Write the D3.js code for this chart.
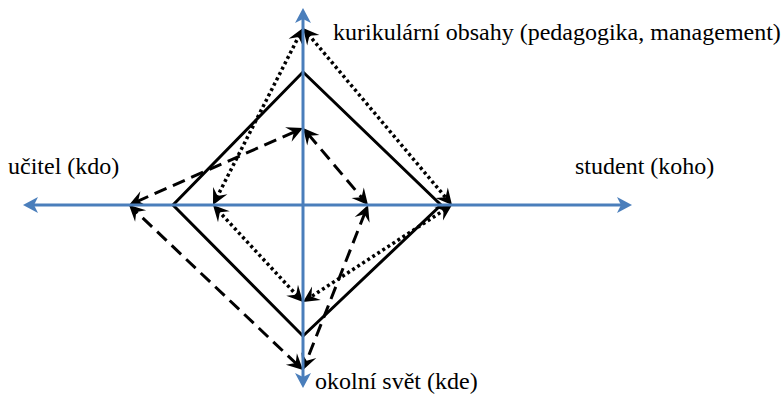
<!DOCTYPE html>
<html>
<head>
<meta charset="utf-8">
<script src="https://cdn.jsdelivr.net/npm/d3@7"></script>
<style>
  body { margin: 0; background: #fff; }
</style>
</head>
<body>
<svg id="chart" width="783" height="395"></svg>
<script>
// axis order: top, right, bottom, left
const axisLabels = ['kurikulární obsahy (pedagogika, management)', 'student (koho)', 'okolní svět (kde)', 'učitel (kdo)'];
const axisLength = [98.5, 164.5, 91.5, 140];
const solidValues = [66.5, 69, 65.5, 65];
const dottedValues = [88.5, 74.5, 48.5, 45];
const dashedValues = [38.5, 32.5, 82.5, 87];

const svg = d3.select('#chart');

const x = d3.scaleLinear().domain([-140, 165]).range([23, 633]);
const y = d3.scaleLinear().domain([-92, 99]).range([389, 7]);

const dirs = [[0, 1], [1, 0], [0, -1], [-1, 0]];
function pt(i, v) {
    return [x(dirs[i][0] * v), y(dirs[i][1] * v)];
}

const BLUE = '#4a7ebb';

// pick the first serif face that is really installed
function pickFont() {
    const ctx = document.createElement('canvas').getContext('2d');
    const probe = 'kurikulární obsahy mmmWWWiii';
    const cands = ['Liberation Serif', 'DejaVu Serif', 'Times New Roman', 'Tinos', 'Noto Serif', 'FreeSerif', 'Nimbus Roman'];
    for (const f of cands) {
        let same = true;
        for (const base of ['monospace', 'sans-serif']) {
            ctx.font = `24px ${base}`;
            const w0 = ctx.measureText(probe).width;
            ctx.font = `24px '${f}', ${base}`;
            if (ctx.measureText(probe).width !== w0) same = false;
        }
        if (!same) return `'${f}', serif`;
    }
    return 'serif';
}
const FONT = pickFont();

function arrowHead(g, tip, from, color, len, half, notch) {
    const ang = Math.atan2(tip[1] - from[1], tip[0] - from[0]) * 180 / Math.PI;
    g.append('path')
        .attr('d', `M0,0L${-len},${-half}L${-notch},0L${-len},${half}Z`)
        .attr('fill', color)
        .attr('transform', `translate(${tip[0]},${tip[1]}) rotate(${ang})`);
}

// shorten a segment at both ends so the stroke hides under the heads
function trimmed(a, b, d) {
    const dx = b[0] - a[0], dy = b[1] - a[1];
    const L = Math.hypot(dx, dy);
    return [[a[0] + dx / L * d, a[1] + dy / L * d], [b[0] - dx / L * d, b[1] - dy / L * d]];
}

// solid diamond, no arrows
const solidPts = solidValues.map((v, i) => pt(i, v));
svg.append('path')
    .attr('d', d3.line()(solidPts) + 'Z')
    .attr('fill', 'none')
    .attr('stroke', '#000')
    .attr('stroke-width', 3)
    .attr('stroke-linejoin', 'miter');

// dotted and dashed profiles, arrows on both ends of every edge
function profile(values, dash, w) {
    const g = svg.append('g');
    const p = values.map((v, i) => pt(i, v));
    for (let i = 0; i < 4; i++) {
        const a = p[i], b = p[(i + 1) % 4];
        const t = trimmed(a, b, 8);
        g.append('line')
            .attr('x1', t[0][0]).attr('y1', t[0][1])
            .attr('x2', t[1][0]).attr('y2', t[1][1])
            .attr('stroke', '#000')
            .attr('stroke-width', w)
            .attr('stroke-dasharray', dash);
        arrowHead(g, b, a, '#000', 16, 8, 10);
        arrowHead(g, a, b, '#000', 16, 8, 10);
    }
}
profile(dottedValues, '3,3', 3.5);
profile(dashedValues, '13,7', 3);

// blue axes on top
const axG = svg.append('g');
axisLength.forEach((len, i) => {
    const o = pt(i, 0), e = pt(i, len);
    const L = Math.hypot(e[0] - o[0], e[1] - o[1]);
    const end = [o[0] + (e[0] - o[0]) / L * (L - 8), o[1] + (e[1] - o[1]) / L * (L - 8)];
    axG.append('line')
        .attr('x1', o[0]).attr('y1', o[1])
        .attr('x2', end[0]).attr('y2', end[1])
        .attr('stroke', BLUE)
        .attr('stroke-width', 3);
    arrowHead(axG, e, o, BLUE, 15, 8, 11);
});

// labels
const labelPos = [[333, 40], [575, 174], [315, 389], [8, 174]];
svg.selectAll('text.lab')
    .data(axisLabels)
    .join('text')
    .attr('class', 'lab')
    .attr('x', (d, i) => labelPos[i][0])
    .attr('y', (d, i) => labelPos[i][1])
    .attr('font-family', FONT)
    .attr('font-size', 24)
    .attr('fill', '#000')
    .text(d => d);
</script>
</body>
</html>
